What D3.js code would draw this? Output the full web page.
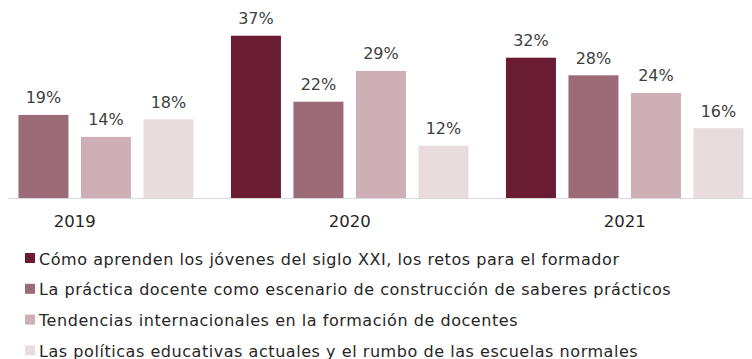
<!DOCTYPE html>
<html>
<head>
<meta charset="utf-8">
<script src="https://cdn.jsdelivr.net/npm/d3@7"></script>
<style>
  html, body { margin: 0; padding: 0; background: #ffffff; }
  svg { display: block; }
  text { font-family: "DejaVu Sans", sans-serif; }
</style>
</head>
<body>
<svg id="chart" width="752" height="359"></svg>
<script>
// Temas por año (porcentaje de menciones)
const years = ["2019", "2020", "2021"];
const seriesNames = [
  "Cómo aprenden los jóvenes del siglo XXI, los retos para el formador",
  "La práctica docente como escenario de construcción de saberes prácticos",
  "Tendencias internacionales en la formación de docentes",
  "Las políticas educativas actuales y el rumbo de las escuelas normales"
];
const jovenes   = [null, 37, 32];
const practica  = [19, 22, 28];
const tendencias = [14, 29, 24];
const politicas = [18, 12, 16];
const seriesValues = [jovenes, practica, tendencias, politicas];
const colors = ["#691c32", "#9b6b77", "#cdafb5", "#e8dcdf"];

const svg = d3.select("#chart");
const baseY = 198.5;

// Grupos por año; el primer grupo queda parcialmente fuera del lienzo
const x0 = d3.scaleBand().domain(years).range([-62.8, 762.2]).paddingInner(0).paddingOuter(0);
const x1 = d3.scaleBand().domain(d3.range(seriesNames.length))
  .range([0, x0.bandwidth()]).paddingInner(0.2).paddingOuter(0.3);
const y = d3.scaleLinear().domain([0, 40]).range([baseY, baseY - 176]);

const rows = years.map((yr, i) => ({
  year: yr,
  values: seriesValues.map((s, k) => ({ k, v: s[i] }))
}));

const groups = svg.append("g").selectAll("g")
  .data(rows).join("g")
  .attr("transform", d => `translate(${x0(d.year)},0)`);

const bars = groups.selectAll("g.bar")
  .data(d => d.values.filter(e => e.v !== null))
  .join("g").attr("class", "bar");

bars.append("rect")
  .attr("x", d => x1(d.k))
  .attr("width", x1.bandwidth())
  .attr("y", d => y(d.v))
  .attr("height", d => baseY - y(d.v))
  .attr("fill", d => colors[d.k]);

bars.append("text")
  .attr("x", d => x1(d.k) + x1.bandwidth() / 2)
  .attr("y", d => y(d.v) - 11.5)
  .attr("text-anchor", "middle")
  .attr("font-size", 16)
  .attr("fill", "#404040")
  .text(d => d.v + "%");

// Eje de categorías
const xAxis = svg.append("g")
  .attr("transform", `translate(0,${baseY})`)
  .call(d3.axisBottom(x0).tickSize(0).tickPadding(16.5));
xAxis.select(".domain").attr("stroke", "#d9d9d9").attr("stroke-width", 1.2)
  .attr("d", "M8,0H752");
xAxis.selectAll(".tick text")
  .attr("font-size", 16.5)
  .attr("fill", "#262626")
  .style("font-family", "DejaVu Sans, sans-serif");

// Leyenda
const legend = svg.append("g").selectAll("g")
  .data(seriesNames).join("g")
  .attr("transform", (d, i) => `translate(25,${253 + i * 30.8})`);
legend.append("rect")
  .attr("width", 10).attr("height", 10)
  .attr("fill", (d, i) => colors[i]);
legend.append("text")
  .attr("x", 14)
  .attr("y", 11.5)
  .attr("font-size", 16)
  .attr("letter-spacing", 0.55)
  .attr("fill", "#262626")
  .text(d => d);
</script>
</body>
</html>
